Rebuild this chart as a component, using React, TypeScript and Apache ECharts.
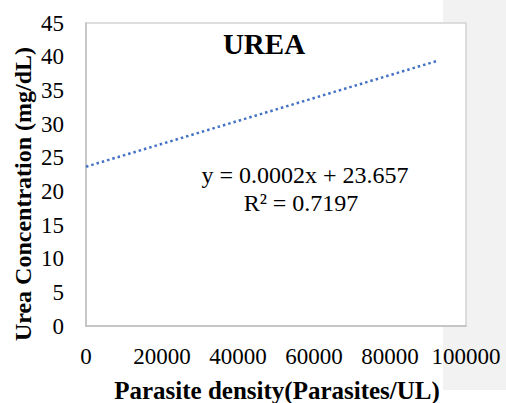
import React, { useEffect, useRef } from "react";
import * as echarts from "echarts";

const chartTitle = "UREA";
const xAxisTitle = "Parasite density(Parasites/UL)";
const yAxisTitle = "Urea Concentration (mg/dL)";
const equationText = "y = 0.0002x + 23.657";
const rSquaredText = "R\u00b2 = 0.7197";
// linear trendline endpoints (x: parasite density, y: urea mg/dL)
const trendX = [0, 92600];
const trendY = [23.657, 39.4];
const xMin = 0;
const xMax = 100000;
const xStep = 20000;
const yMin = 0;
const yMax = 45;
const yStep = 5;

const FONT = "Liberation Serif";

export default function App() {
  const ref = useRef<HTMLDivElement>(null);
  useEffect(() => {
    if (!ref.current) return;
    const chart = echarts.init(ref.current, undefined, { renderer: "svg" });
    const data = trendX.map((x, i) => [x, trendY[i]]);
    chart.setOption({
      animation: false,
      backgroundColor: "#ffffff",
      textStyle: { fontFamily: FONT },
      grid: {
        left: 86,
        top: 23,
        right: 40,
        bottom: 77,
        show: true,
        backgroundColor: "#ffffff",
        borderColor: "#d3d3d3",
        borderWidth: 1.5,
        z: 1,
      },
      graphic: [
        {
          type: "rect",
          z: -10,
          silent: true,
          shape: { x: 443, y: 0, width: 63, height: 390 },
          style: { fill: "#f2f2f2" },
        },
        {
          type: "text",
          x: 264,
          y: 44,
          z: 10,
          style: {
            text: chartTitle,
            font: `bold 29px ${FONT}`,
            fill: "#000",
            textAlign: "center",
            textVerticalAlign: "middle",
          },
        },
        {
          type: "text",
          x: 305,
          y: 175,
          z: 10,
          style: {
            text: equationText,
            font: `24px ${FONT}`,
            fill: "#000",
            textAlign: "center",
            textVerticalAlign: "middle",
          },
        },
        {
          type: "text",
          x: 301,
          y: 203,
          z: 10,
          style: {
            text: rSquaredText,
            font: `24px ${FONT}`,
            fill: "#000",
            textAlign: "center",
            textVerticalAlign: "middle",
          },
        },
        {
          type: "text",
          x: 277,
          y: 390,
          z: 10,
          style: {
            text: xAxisTitle,
            font: `bold 25px ${FONT}`,
            fill: "#000",
            textAlign: "center",
            textVerticalAlign: "middle",
          },
        },
        {
          type: "text",
          x: 23,
          y: 194,
          rotation: Math.PI / 2,
          z: 10,
          style: {
            text: yAxisTitle,
            font: `bold 24px ${FONT}`,
            fill: "#000",
            textAlign: "center",
            textVerticalAlign: "middle",
          },
        },
      ],
      xAxis: {
        type: "value",
        min: xMin,
        max: xMax,
        interval: xStep,
        z: 5,
        axisLine: { show: true, onZero: false, lineStyle: { color: "#bfbfbf", width: 1.5 } },
        axisTick: { show: false },
        splitLine: { show: false },
        axisLabel: {
          color: "#000",
          fontFamily: FONT,
          fontSize: 23,
          margin: 19,
          showMaxLabel: true,
          formatter: (v: number) => String(v),
        },
      },
      yAxis: {
        type: "value",
        min: yMin,
        max: yMax,
        interval: yStep,
        z: 5,
        axisLine: { show: true, onZero: false, lineStyle: { color: "#bfbfbf", width: 1.5 } },
        axisTick: { show: false },
        splitLine: { show: false },
        axisLabel: {
          color: "#000",
          fontFamily: FONT,
          fontSize: 23,
          margin: 22,
          formatter: (v: number) => String(v),
        },
      },
      series: [
        {
          type: "line",
          data,
          symbol: "none",
          z: 6,
          lineStyle: { color: "#4472c4", width: 2.5, type: [2.5, 3] },
        },
      ],
    });
    return () => chart.dispose();
  }, []);
  return (
    <div
      ref={ref}
      style={{ position: "absolute", left: 0, top: 0, width: 506, height: 403 }}
    />
  );
}
